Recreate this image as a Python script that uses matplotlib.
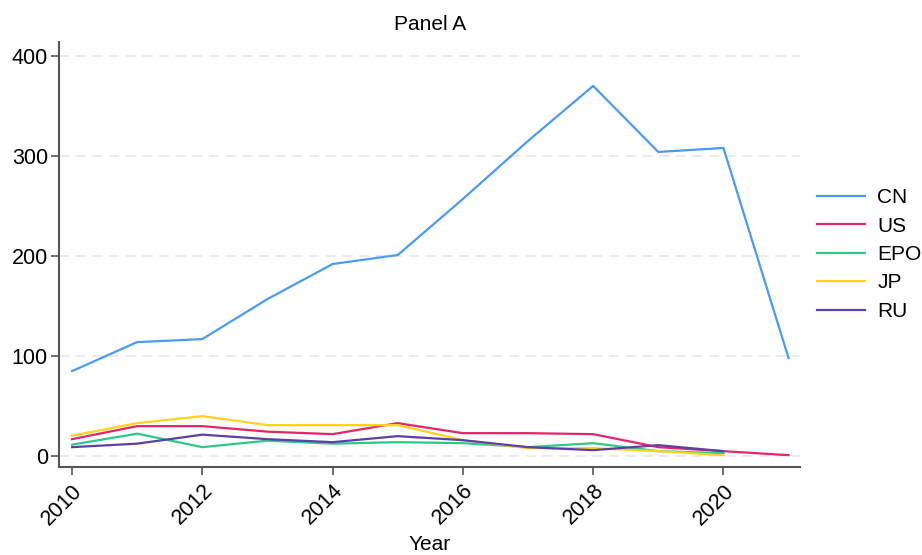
# Panel A: counts by office, 2010-2021

import numpy as np
import matplotlib.pyplot as plt

plt.rcParams['font.family'] = ['Liberation Sans', 'DejaVu Sans']

# Data
years = list(range(2010, 2022))
cn = [85, 114, 117, 157, 192, 201, 257, 315, 370, 304, 308, 98]
us = [17, 30, 30, 24.5, 22, 33, 23, 23, 22, 9, 5, 1]
epo = [11.5, 22.5, 9, 15.5, 12.5, 14, 13, 9, 13, 5, 3]
jp = [20.5, 33, 40, 31, 31, 31, 16, 8, 8, 5, 1]
ru = [9, 12.5, 21.5, 17, 14, 20, 16, 9, 6, 11, 5]

series = [("CN", cn, "#4a9bf5"),
          ("US", us, "#e3266a"),
          ("EPO", epo, "#2ec98a"),
          ("JP", jp, "#ffd21f"),
          ("RU", ru, "#5e3ea8")]

fig = plt.figure(figsize=(9.22, 5.55), dpi=100)
ax = fig.add_axes([0.064, 0.1586, 0.804, 0.7654])

for name, vals, col in series:
    ax.plot(years[:len(vals)], vals, color=col, linewidth=1.6, label=name)

ax.set_xlim(2009.8, 2021.18)
ax.set_ylim(-10.8, 413.7)
ax.set_xticks(range(2010, 2021, 2))
ax.set_yticks([0, 100, 200, 300, 400])
plt.setp(ax.get_xticklabels(), rotation=45, ha="right", rotation_mode="anchor")
ax.tick_params(labelsize=15.5, color="#555555", length=6, width=1.2)
ax.tick_params(axis="y", pad=2)

ax.grid(axis="y", linestyle=(0, (6, 4)), color="#e8e8e8", linewidth=1.2)
ax.set_axisbelow(True)
for s in ["top", "right"]:
    ax.spines[s].set_visible(False)
for s in ["left", "bottom"]:
    ax.spines[s].set_color("#555555")
    ax.spines[s].set_linewidth(1.5)

ax.set_title("Panel A", fontsize=15, pad=9)
ax.set_xlabel("Year", fontsize=15, va="center")
ax.xaxis.set_label_coords(0.5, -0.183)
ax.legend(loc="center left", bbox_to_anchor=(1.0, 0.5), frameon=False,
          fontsize=15, handlelength=2.3, handletextpad=0.6,
          labelspacing=0.45, borderaxespad=0.4)

fig.savefig("out.png", dpi=100)
